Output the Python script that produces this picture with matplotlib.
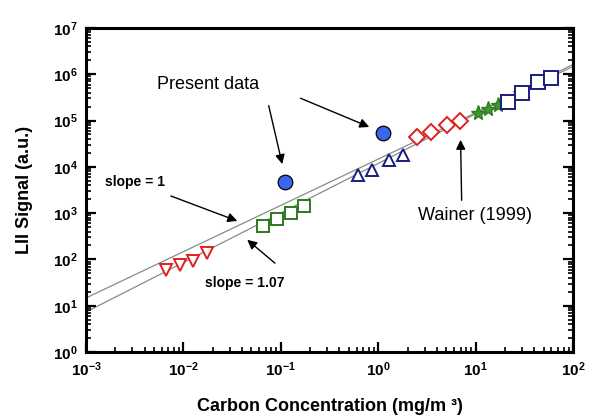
import matplotlib
matplotlib.use("Agg")
import matplotlib.pyplot as plt
from matplotlib.ticker import LogLocator, NullFormatter
import numpy as np

plt.rcParams['font.family'] = ['Liberation Sans', 'DejaVu Sans']

# Wainer (1999) series
tri_down_x = [0.0066, 0.0092, 0.0126, 0.0175]
tri_down_y = [59, 76, 92, 137]
sq_green_x = [0.066, 0.091, 0.127, 0.173]
sq_green_y = [527, 748, 1000, 1420]
tri_up_x = [0.62, 0.86, 1.29, 1.80]
tri_up_y = [6650, 8500, 14000, 18000]
diamond_x = [2.50, 3.48, 5.09, 6.92]
diamond_y = [44000, 56600, 79700, 97000]
star_x = [10.6, 13.4, 17.0, 28.6]
star_y = [145000, 177000, 221000, 390000]
sq_blue_x = [21.5, 29.9, 43.7, 59.4]
sq_blue_y = [251000, 392000, 676000, 830000]

# present data
present_x = [0.11, 1.12]
present_y = [4700, 54000]

# fit lines: y = a * (x / 1e-3) ** slope
fit_x = [1e-3, 1e2]
fit_a = [14.7, 7.3]
fit_slope = [1.0, 1.07]

fig = plt.figure(figsize=(5.96, 4.17), dpi=100)
ax = fig.add_axes([0.1443, 0.1559, 0.8171, 0.7770])

xx = np.array(fit_x)
for a, s in zip(fit_a, fit_slope):
    ax.plot(xx, a * (xx / 1e-3) ** s, color='#8a8a8a', lw=0.9, zorder=1)

mk = dict(ls='none', mew=1.4, mfc='white', zorder=3)
ax.plot(tri_down_x, tri_down_y, marker='v', ms=9, mec='#e02020', **mk)
ax.plot(sq_green_x, sq_green_y, marker='s', ms=9, mec='#2d7a1e', **mk)
ax.plot(tri_up_x, tri_up_y, marker='^', ms=9, mec='#1c1c80', **mk)
ax.plot(diamond_x, diamond_y, marker='D', ms=8, mec='#e02020', **mk)
ax.plot(star_x, star_y, marker='*', ms=11, ls='none', mew=1.0,
        mec='#2d7a1e', mfc='#3c9a2a', zorder=3)
ax.plot(sq_blue_x, sq_blue_y, marker='s', ms=10, mec='#1c1c80', **mk)

ax.plot(present_x, present_y, marker='o', ms=10.5, ls='none', mfc='#3a66ee',
        mec='black', mew=0.9, zorder=4)

ax.set_xscale('log')
ax.set_yscale('log')
ax.set_xlim(1e-3, 1e2)
ax.set_ylim(1e0, 1e7)

for sp in ax.spines.values():
    sp.set_linewidth(2.2)

ax.xaxis.set_minor_locator(LogLocator(base=10, subs=np.arange(2, 10)))
ax.yaxis.set_minor_locator(LogLocator(base=10, subs=np.arange(2, 10)))
ax.xaxis.set_minor_formatter(NullFormatter())
ax.yaxis.set_minor_formatter(NullFormatter())
ax.tick_params(which='both', direction='in', right=True, top=False,
               labelsize=11, pad=6)
ax.tick_params(which='major', length=7, width=1.6)
ax.tick_params(which='minor', length=3.5, width=1.2)
for lab in ax.get_xticklabels() + ax.get_yticklabels():
    lab.set_fontweight('bold')

ax.set_xlabel('Carbon Concentration (mg/m ³)', fontsize=13, fontweight='bold',
              labelpad=14)
ax.set_ylabel('LII Signal (a.u.)', fontsize=13, fontweight='bold', labelpad=14)

arr = dict(arrowstyle='-|>', color='black', lw=1.0, mutation_scale=14)
ax.text(0.0054, 5.9e5, 'Present data', fontsize=13, ha='left', va='center')
ax.annotate('', xy=(0.105, 1.0e4), xytext=(0.074, 2.4e5), arrowprops=arr)
ax.annotate('', xy=(0.86, 6.9e4), xytext=(0.15, 3.2e5), arrowprops=arr)

ax.text(9.9, 910, 'Wainer (1999)', fontsize=13, ha='center', va='center')
ax.annotate('', xy=(7.0, 4.4e4), xytext=(7.2, 1650), arrowprops=arr)

ax.text(0.00155, 4600, 'slope = 1', fontsize=10, fontweight='bold',
        ha='left', va='center')
ax.annotate('', xy=(0.038, 645), xytext=(0.007, 2460), arrowprops=arr)
ax.text(0.0167, 31, 'slope = 1.07', fontsize=10, fontweight='bold',
        ha='left', va='center')
ax.annotate('', xy=(0.043, 290), xytext=(0.0915, 76), arrowprops=arr)

fig.savefig('out.png', dpi=100)
